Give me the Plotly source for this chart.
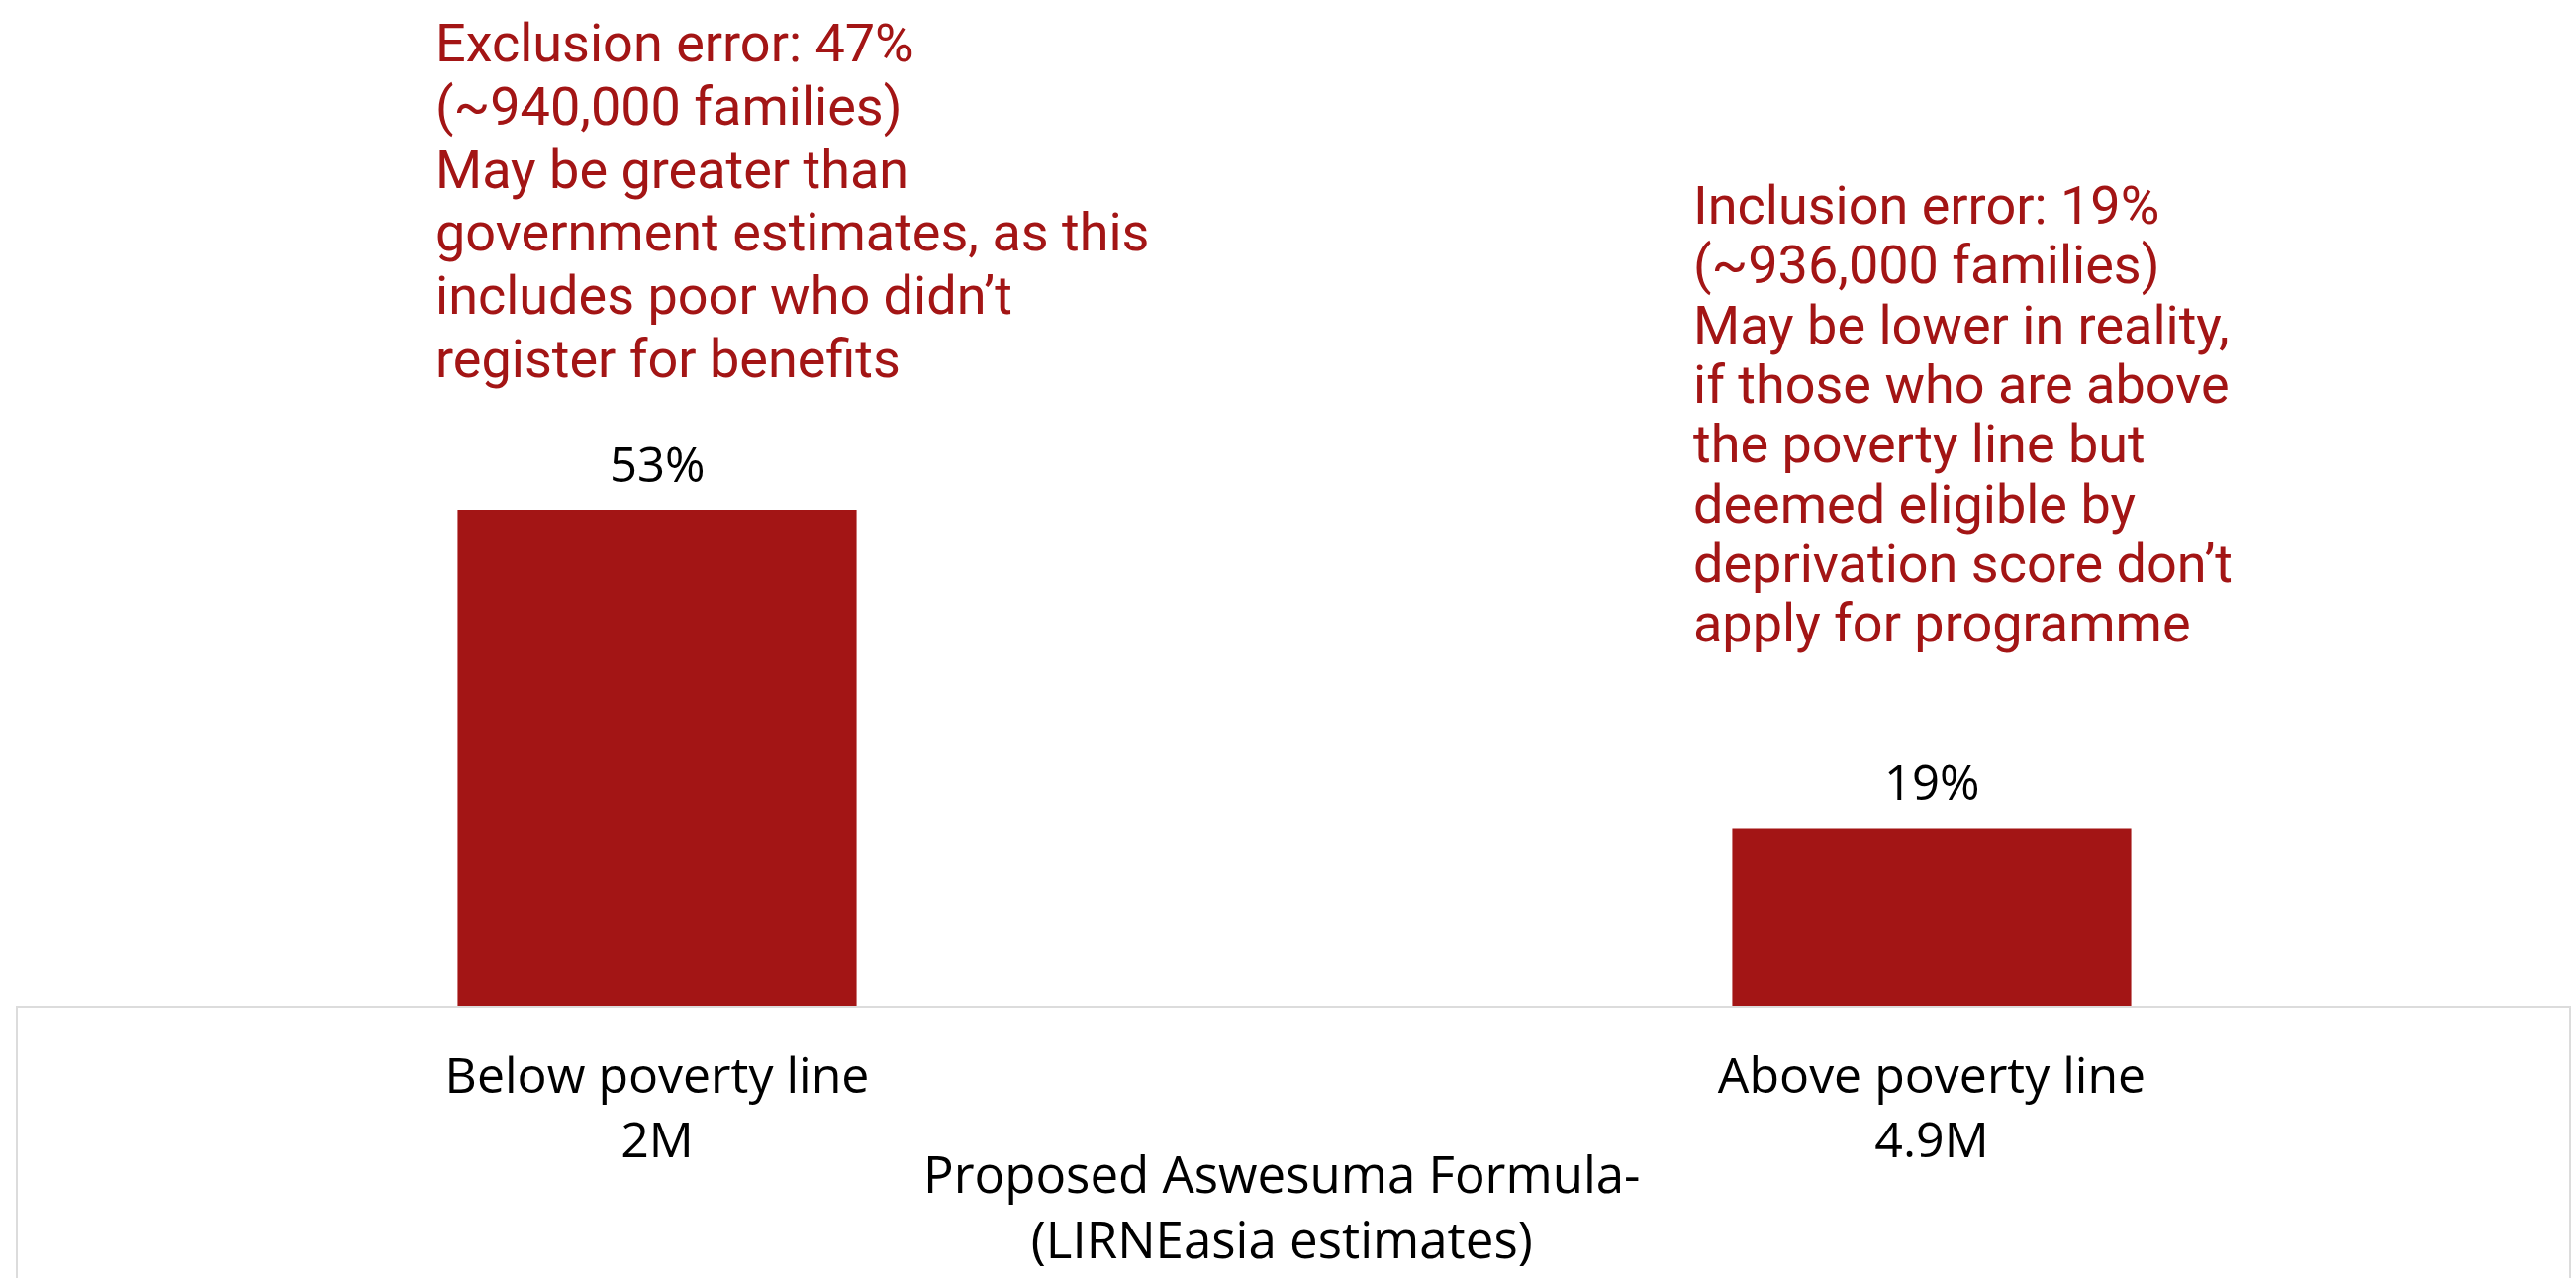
import plotly.graph_objects as go

# ---- data ----
categories = ["Below poverty line", "Above poverty line"]
populations = ["2M", "4.9M"]
values = [53, 19]
value_labels = ["53%", "19%"]

left_note = [
    "Exclusion error: 47%",
    "(~940,000 families)",
    "May be greater than",
    "government estimates, as this",
    "includes poor who didn\u2019t",
    "register for benefits",
]
right_note = [
    "Inclusion error: 19%",
    "(~936,000 families)",
    "May be lower in reality,",
    "if those who are above",
    "the poverty line but",
    "deemed eligible by",
    "deprivation score don\u2019t",
    "apply for programme",
]
axis_title = ["Proposed Aswesuma Formula-", "(LIRNEasia estimates)"]

# ---- style ----
W, H = 2603, 1291
ML, MR, MT, MB = 20, 7, 0, 275
PLOT_W = W - ML - MR
PLOT_H = H - MT - MB
RED = "#A31515"
NOTE_FONT = 54


def px_x(px):
    return (px - ML) / PLOT_W


def px_y(py):
    return 1 - (py - MT) / PLOT_H


fig = go.Figure()
fig.add_trace(
    go.Bar(
        x=categories,
        y=values,
        marker=dict(color=RED, line=dict(width=0)),
        cliponaxis=False,
        hoverinfo="skip",
    )
)

annotations = []
# value labels above bars
for c, v, t in zip(categories, values, value_labels):
    annotations.append(
        dict(
            text=t, x=c, y=v, xref="x", yref="y",
            xanchor="center", yanchor="bottom", yshift=12, showarrow=False,
            font=dict(family="Open Sans", size=49, color="#000000"),
        )
    )


def add_note(lines, left_px, first_baseline, step):
    for i, line in enumerate(lines):
        baseline = first_baseline + i * step
        annotations.append(
            dict(
                text=line, xref="paper", yref="paper",
                x=px_x(left_px), y=px_y(baseline - 0.34 * NOTE_FONT),
                xanchor="left", yanchor="middle", align="left", showarrow=False,
                font=dict(family="Roboto", size=NOTE_FONT, color=RED),
            )
        )


add_note(left_note, 438, 62, 63.7)
add_note(right_note, 1709, 226, 60.3)

annotations.append(
    dict(
        text="<br>".join(axis_title), xref="paper", yref="paper",
        x=px_x(1295), y=px_y(1148), xanchor="center", yanchor="top",
        align="center", showarrow=False,
        font=dict(family="Open Sans", size=51, color="#000000"),
    )
)

fig.update_layout(
    width=W, height=H,
    margin=dict(l=ML, r=MR, t=MT, b=MB, pad=0),
    paper_bgcolor="white", plot_bgcolor="white",
    showlegend=False,
    bargap=0.687,
    annotations=annotations,
    shapes=[
        dict(
            type="rect", xref="paper", yref="paper",
            x0=px_x(17), x1=px_x(2597), y0=px_y(1400), y1=px_y(1017),
            line=dict(color="#DCDCDC", width=2), fillcolor="rgba(0,0,0,0)",
            layer="below",
        )
    ],
    xaxis=dict(
        type="category",
        range=[-0.5, 1.5],
        tickmode="array",
        tickvals=categories,
        ticktext=[f"{c}<br>{p}" for c, p in zip(categories, populations)],
        tickfont=dict(family="Open Sans", size=50, color="#000000"),
        showgrid=False, zeroline=False, showline=False, ticks="",
        ticklabelstandoff=37,
    ),
    yaxis=dict(range=[0, 107.5], visible=False, showgrid=False, zeroline=False),
)

fig.write_html("out.html", include_plotlyjs=True, config={"displayModeBar": False})
